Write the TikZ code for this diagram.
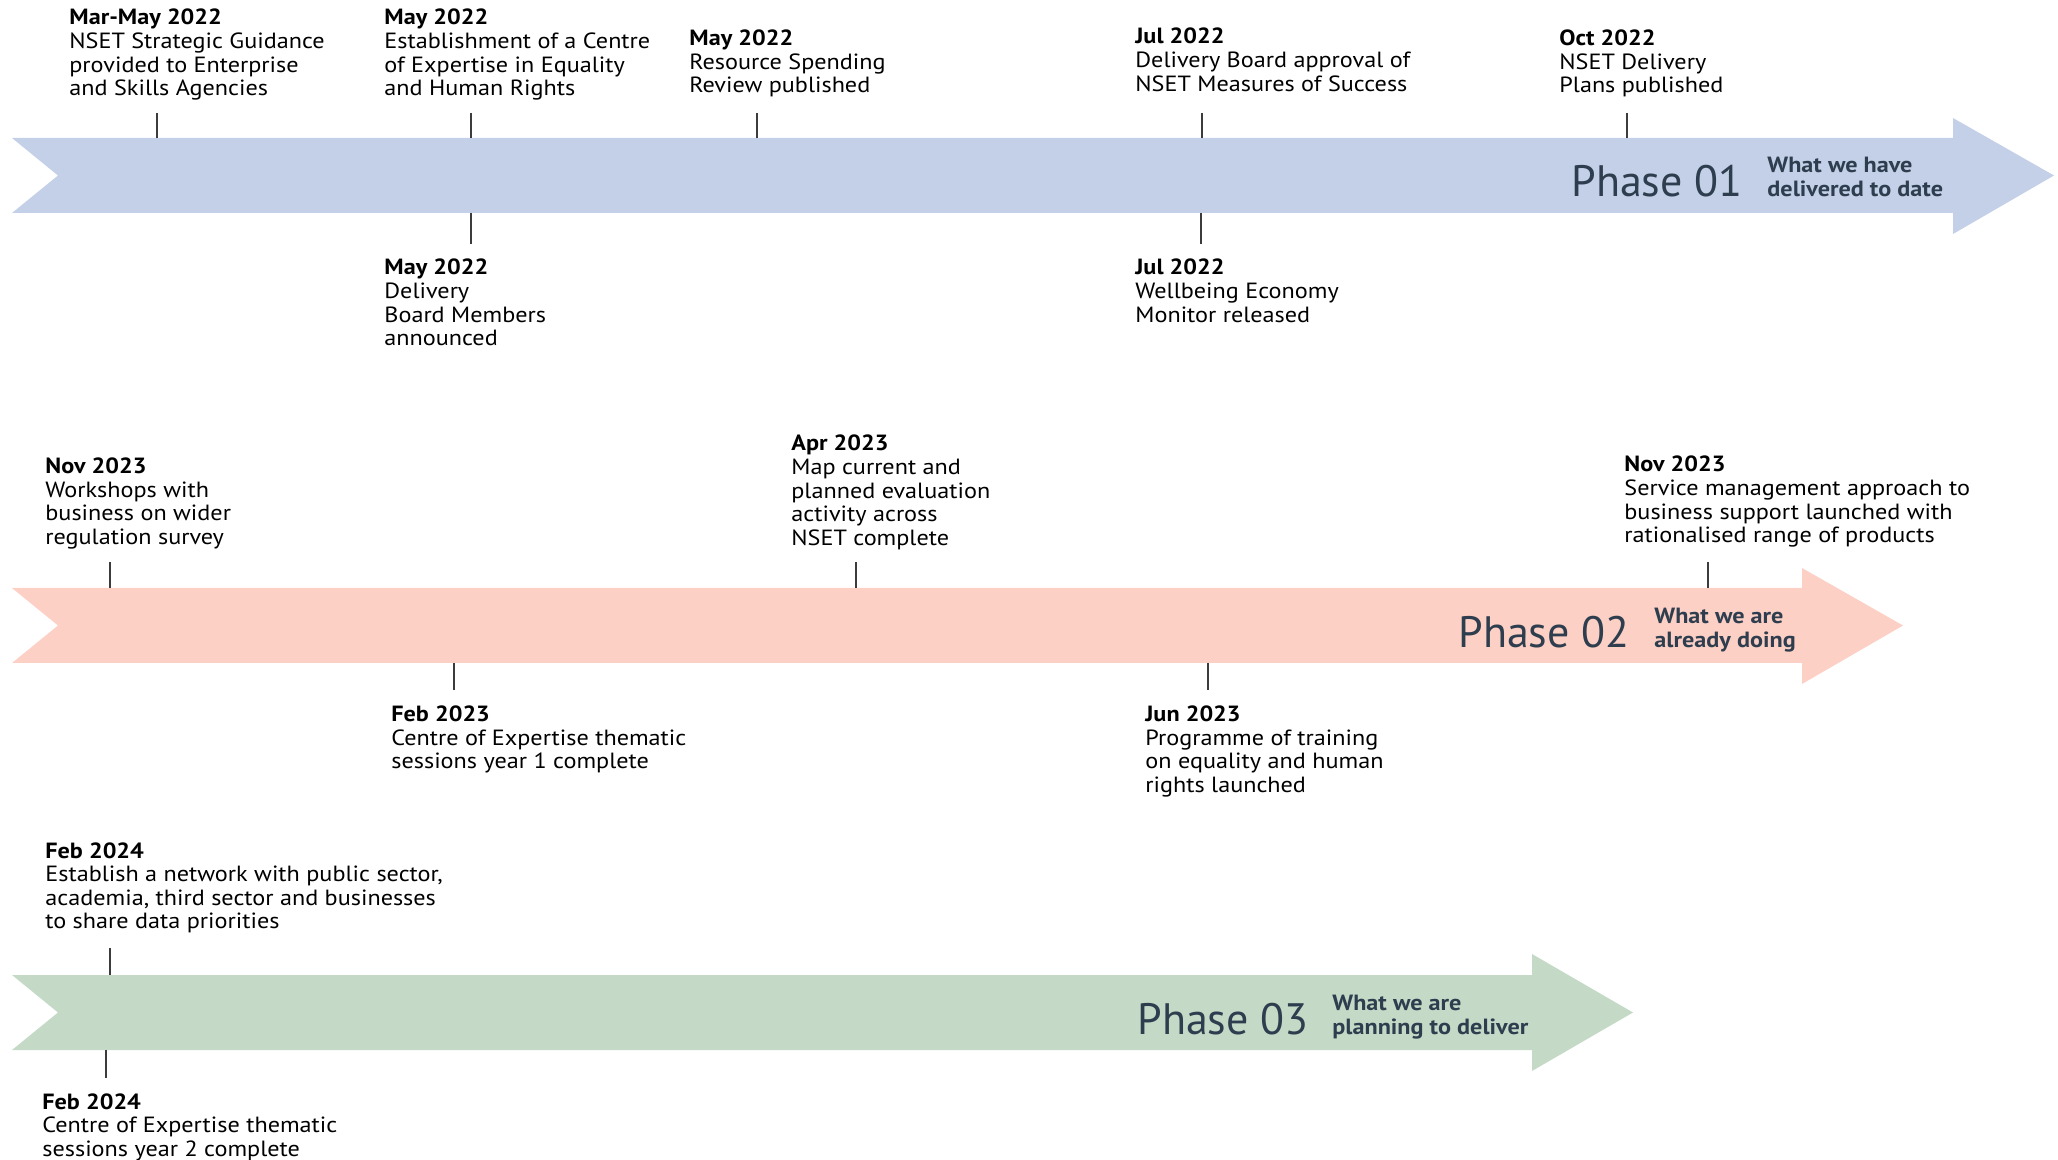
\documentclass[tikz,border=0pt]{standalone}
\usepackage{fontspec}
\setmainfont{PT Sans}
\newfontfamily\lblfont[FakeStretch=1.1]{PT Sans}
\definecolor{phaseblue}{RGB}{195,208,232}
\definecolor{phasepink}{RGB}{253,208,198}
\definecolor{phasegreen}{RGB}{196,218,199}
\definecolor{phasetext}{RGB}{46,62,78}
\definecolor{tickcol}{RGB}{60,60,60}
\begin{document}
\begin{tikzpicture}[x=0.5pt,y=-0.5pt,
  lbl/.style={anchor=base west, align=left, inner sep=0pt, font=\lblfont\fontsize{11}{11.8}\selectfont, text=black},
  phasename/.style={anchor=base west, inner sep=0pt, font=\fontsize{22}{24}\selectfont, text=phasetext},
  phasedesc/.style={anchor=base west, align=left, inner sep=0pt, font=\lblfont\fontsize{11}{12}\selectfont\bfseries, text=phasetext},
  tick/.style={draw=tickcol, line width=0.6pt}]
\useasboundingbox (0,0) rectangle (2058,1160);
% arrows
\fill[phaseblue] (12,138) -- (1953,138) -- (1953,118) -- (2054,175.5) -- (1953,234) -- (1953,213) -- (12,213) -- (58,175.5) -- cycle;
\fill[phasepink] (12,588) -- (1802,588) -- (1802,568) -- (1903,625.5) -- (1802,684) -- (1802,663) -- (12,663) -- (58,625.5) -- cycle;
\fill[phasegreen] (12,975) -- (1532,975) -- (1532,954) -- (1633,1012.5) -- (1532,1071) -- (1532,1050) -- (12,1050) -- (58,1012.5) -- cycle;
% phase labels (base = last line)
\node[phasename] (p1) at (1571,197) {Phase 01};
\node[phasedesc] (p1d) at (1767,197) {What we have\\delivered to date};
\node[phasename] (p2) at (1458,647) {Phase 02};
\node[phasedesc] (p2d) at (1654,647) {What we are\\already doing};
\node[phasename] (p3) at (1137,1034) {Phase 03};
\node[phasedesc] (p3d) at (1332,1034) {What we are\\planning to deliver};
% Phase 1 labels (anchor at last line baseline)
\node[lbl] (l1) at (69,95.8) {\textbf{Mar-May 2022}\\NSET Strategic Guidance\\provided to Enterprise\\and Skills Agencies};
\node[lbl] (l2) at (384,95.8) {\textbf{May 2022}\\Establishment of a Centre\\of Expertise in Equality\\and Human Rights};
\node[lbl] (l3) at (689,92.7) {\textbf{May 2022}\\Resource Spending\\Review published};
\node[lbl] (l4) at (1135,91.2) {\textbf{Jul 2022}\\Delivery Board approval of\\NSET Measures of Success};
\node[lbl] (l5) at (1559,92.7) {\textbf{Oct 2022}\\NSET Delivery\\Plans published};
\node[lbl] (l6) at (384,345.8) {\textbf{May 2022}\\Delivery\\Board Members\\announced};
\node[lbl] (l7) at (1135,322.2) {\textbf{Jul 2022}\\Wellbeing Economy\\Monitor released};
% Phase 2 labels
\node[lbl] (l8) at (45,544.3) {\textbf{Nov 2023}\\Workshops with\\business on wider\\regulation survey};
\node[lbl] (l9) at (791,545.4) {\textbf{Apr 2023}\\Map current and\\planned evaluation\\activity across\\NSET complete};
\node[lbl] (l10) at (1624,542.8) {\textbf{Nov 2023}\\Service management approach to\\business support launched with\\rationalised range of products};
\node[lbl] (l11) at (391,768.7) {\textbf{Feb 2023}\\Centre of Expertise thematic\\sessions year 1 complete};
\node[lbl] (l12) at (1145,792.3) {\textbf{Jun 2023}\\Programme of training\\on equality and human\\rights launched};
% Phase 3 labels
\node[lbl] (l13) at (45,928.8) {\textbf{Feb 2024}\\Establish a network with public sector,\\academia, third sector and businesses\\to share data priorities};
\node[lbl] (l14) at (42,1156.2) {\textbf{Feb 2024}\\Centre of Expertise thematic\\sessions year 2 complete};
% tick coordinates
\coordinate (t1a) at (157,113);  \coordinate (t1b) at (157,138);
\coordinate (t2a) at (471,113);  \coordinate (t2b) at (471,138);
\coordinate (t3a) at (757,113);  \coordinate (t3b) at (757,138);
\coordinate (t4a) at (1202,113); \coordinate (t4b) at (1202,138);
\coordinate (t5a) at (1627,113); \coordinate (t5b) at (1627,138);
\coordinate (t6a) at (471,213);  \coordinate (t6b) at (471,244);
\coordinate (t7a) at (1201,213); \coordinate (t7b) at (1201,244);
\coordinate (t8a) at (110,562);  \coordinate (t8b) at (110,588);
\coordinate (t9a) at (856,562);  \coordinate (t9b) at (856,588);
\coordinate (t10a) at (1708,562); \coordinate (t10b) at (1708,588);
\coordinate (t11a) at (454,663);  \coordinate (t11b) at (454,690);
\coordinate (t12a) at (1208,663); \coordinate (t12b) at (1208,690);
\coordinate (t13a) at (110,948);  \coordinate (t13b) at (110,975);
\coordinate (t14a) at (106,1050); \coordinate (t14b) at (106,1078);
\foreach \i in {1,...,14} {\draw[tick] (t\i a) -- (t\i b);}
\end{tikzpicture}
\end{document}
